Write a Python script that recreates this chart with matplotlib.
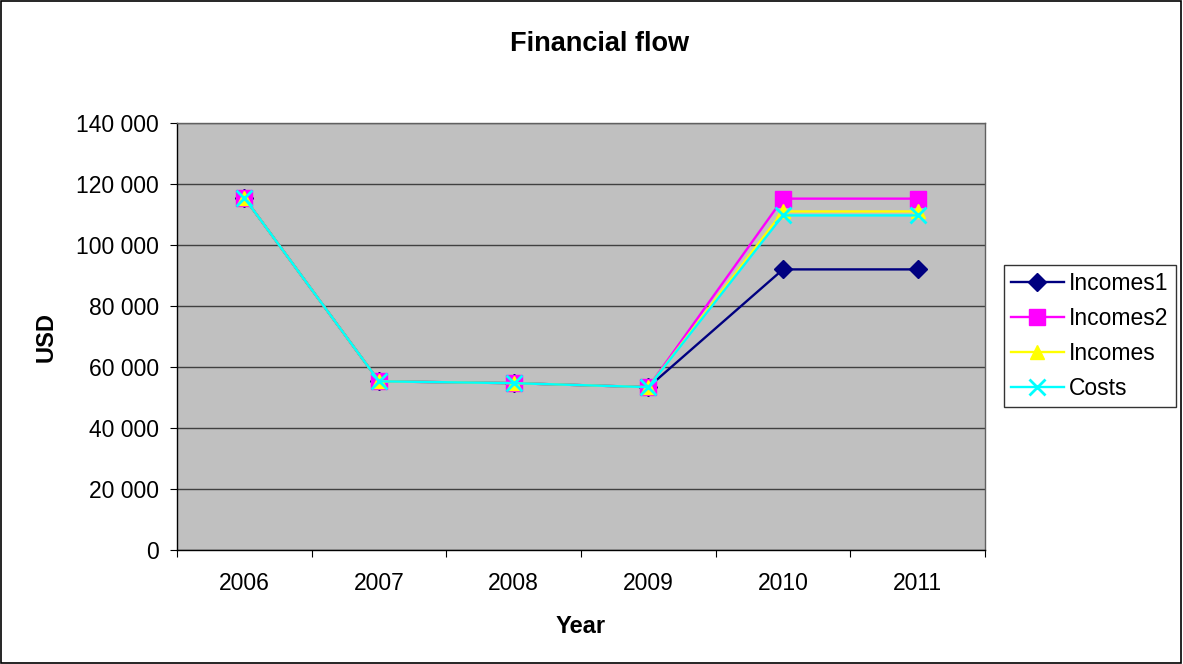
import matplotlib
matplotlib.use("Agg")
import matplotlib.pyplot as plt
from matplotlib.ticker import FuncFormatter, FixedLocator
from matplotlib.patches import Rectangle

years = ["2006", "2007", "2008", "2009", "2010", "2011"]
incomes1 = [115500, 55300, 54700, 53400, 92000, 92000]
incomes2 = [115500, 55300, 54700, 53400, 115200, 115200]
incomes = [115500, 55300, 54700, 53400, 111000, 111000]
costs = [115500, 55300, 54700, 53400, 109700, 109700]

plt.rcParams['font.family'] = ['Liberation Sans', 'DejaVu Sans']

fig = plt.figure(figsize=(11.83, 6.64), dpi=100)
fig.patch.set_facecolor('white')
fig.add_artist(Rectangle((0.001, 0.001), 0.997, 0.997, transform=fig.transFigure,
                         fill=False, edgecolor='black', linewidth=1.2))

ax = fig.add_axes([177/1183, (664-550)/664, (985-177)/1183, (550-123)/664])
ax.set_facecolor('#C0C0C0')

x = list(range(len(years)))
ax.plot(x, incomes1, color='#000080', marker='D', markersize=9, linewidth=1.7, label='Incomes1', zorder=3)
ax.plot(x, incomes2, color='#FF00FF', marker='s', markersize=11, linewidth=1.7, label='Incomes2', zorder=4)
ax.plot(x, incomes, color='#FFFF00', marker='^', markersize=10, linewidth=1.7, label='Incomes', zorder=5)
ax.plot(x, costs, color='#00FFFF', marker='x', markersize=11, markeredgewidth=2, linewidth=1.7, label='Costs', zorder=6)

ax.set_xlim(-0.5, len(years) - 0.5)
ax.set_ylim(0, 140000)
ax.set_yticks(range(0, 140001, 20000))
ax.yaxis.set_major_formatter(FuncFormatter(lambda v, p: f"{int(v):,}".replace(",", " ")))
ax.grid(axis='y', color='#404040', linewidth=1.0)
ax.set_axisbelow(True)

ax.set_xticks(x)
ax.set_xticklabels(years)
ax.tick_params(axis='x', which='major', length=0, labelsize=16.5, pad=16)
ax.xaxis.set_minor_locator(FixedLocator([i - 0.5 for i in range(len(years) + 1)]))
ax.tick_params(axis='x', which='minor', length=5, direction='out', width=0.8)
ax.tick_params(axis='y', length=5, direction='out', labelsize=16.5, pad=8, width=0.8)

for s in ax.spines.values():
    s.set_color('#606060')
    s.set_linewidth(1.0)
ax.spines['left'].set_color('black')
ax.spines['bottom'].set_color('black')

ax.set_xlabel('Year', fontsize=17, fontweight='bold', labelpad=14)
ax.set_ylabel('USD', fontsize=17, fontweight='bold', labelpad=13)
fig.text(600/1183, 1 - 44/664, 'Financial flow', ha='center', va='center', fontsize=19.5, fontweight='bold')

leg = fig.legend(loc='upper left', bbox_to_anchor=(1004/1183, 1 - 265/664), frameon=True,
                 fancybox=False, edgecolor='black', fontsize=16.5, handlelength=2.3,
                 borderpad=0.3, labelspacing=0.53, handletextpad=0.25, borderaxespad=0)
leg.get_frame().set_linewidth(1.0)

fig.savefig('out.png', dpi=100, facecolor='white')
